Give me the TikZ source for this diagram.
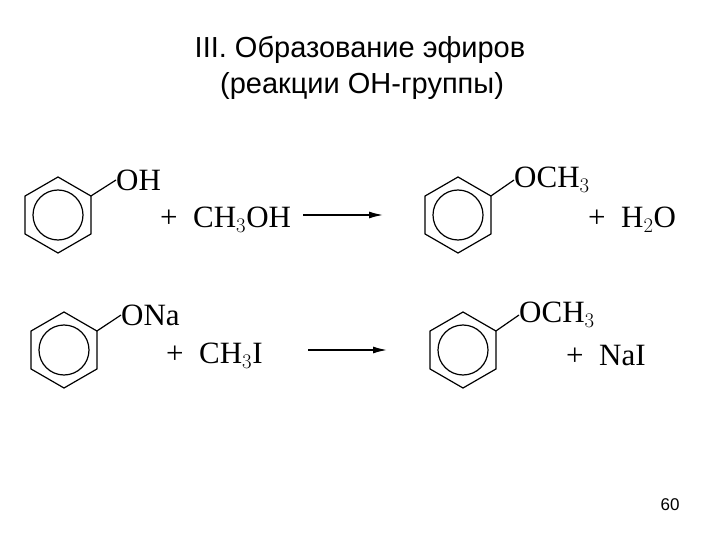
\documentclass[tikz,border=0pt]{standalone}
\usepackage{fontspec}
\setmainfont{Liberation Serif}
\newfontfamily\titlefont{Liberation Sans}
\usetikzlibrary{arrows.meta}
\begin{document}
\begin{tikzpicture}[x=1pt,y=-1pt,
  chem/.style={font=\fontsize{31}{31}\selectfont, inner sep=0pt},
  ttl/.style={font=\titlefont\fontsize{29}{34}\selectfont, inner sep=0pt},
  bnd/.style={line width=1.2pt},
  rxn/.style={line width=1.4pt,-{Latex[length=14pt,width=7pt]}}]
\useasboundingbox (0,0) rectangle (720,540);
\newcommand\ring[2]{%
  \draw[bnd] (#1+38*0.866,#2-19) -- (#1,#2-38) -- (#1-38*0.866,#2-19) -- (#1-38*0.866,#2+19) -- (#1,#2+38) -- (#1+38*0.866,#2+19) -- cycle;
  \draw[bnd] (#1,#2) circle (25);}
\node[ttl] (t1) at (360,50) {III. Образование эфиров};
\node[ttl] (t2) at (362,86) {(реакции OH-группы)};
% reaction 1
\ring{58}{215}
\coordinate (r1) at (58+38*0.866,196);
\node[chem,anchor=west] (oh) at (116,180) {OH};
\draw[bnd] (r1) -- (oh.west);
\node[chem,anchor=west] (m1) at (160,220) {+\ \ CH$_3$OH};
\coordinate (a1s) at (303,215); \coordinate (a1e) at (383,215);
\draw[rxn] (a1s) -- (a1e);
\ring{458}{215}
\coordinate (r2) at (458+38*0.866,196);
\node[chem,anchor=west] (och1) at (514,180) {OCH$_3$};
\draw[bnd] (r2) -- (och1.west);
\node[chem,anchor=west] (w) at (588,220) {+\ \ H$_2$O};
% reaction 2
\ring{64}{350}
\coordinate (r3) at (64+38*0.866,331);
\node[chem,anchor=west] (ona) at (121,315) {ONa};
\draw[bnd] (r3) -- (ona.west);
\node[chem,anchor=west] (m2) at (166,356) {+\ \ CH$_3$I};
\coordinate (a2s) at (308,350); \coordinate (a2e) at (387,350);
\draw[rxn] (a2s) -- (a2e);
\ring{463}{350}
\coordinate (r4) at (463+38*0.866,331);
\node[chem,anchor=west] (och2) at (519,315) {OCH$_3$};
\draw[bnd] (r4) -- (och2.west);
\node[chem,anchor=west] (nai) at (566,356) {+\ \ NaI};
\node[font=\titlefont\fontsize{17}{17}\selectfont] (pg) at (670,505) {60};
\end{tikzpicture}
\end{document}
